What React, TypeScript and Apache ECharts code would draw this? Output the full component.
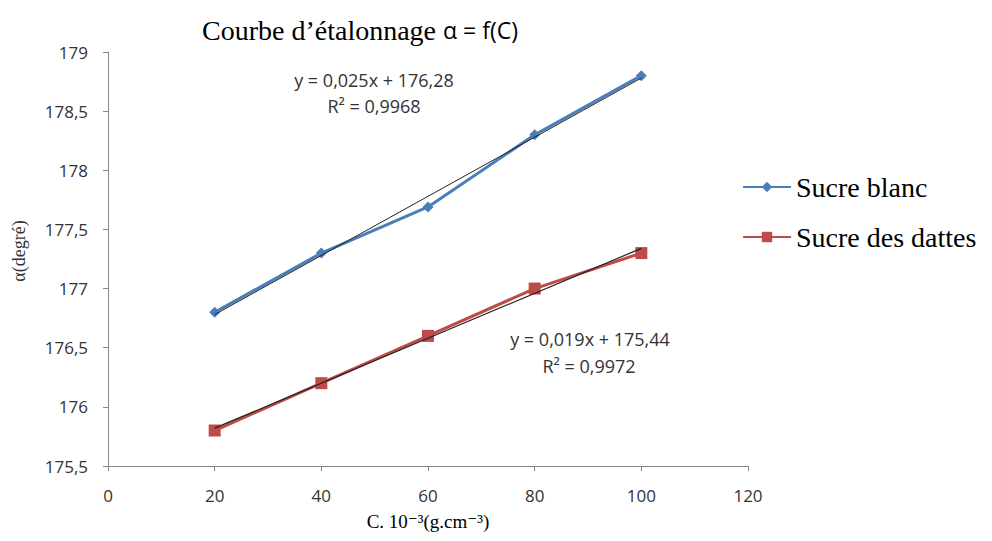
import React, { useEffect, useRef } from "react";
import * as echarts from "echarts";

const concentrations = [20, 40, 60, 80, 100];
const sucreBlanc = [176.8, 177.3, 177.69, 178.3, 178.8];
const sucreDattes = [175.8, 176.2, 176.6, 177.0, 177.3];
const trendBlanc = { slope: 0.025, intercept: 176.28, label: "y = 0,025x + 176,28", r2: "R² = 0,9968" };
const trendDattes = { slope: 0.019, intercept: 175.44, label: "y = 0,019x + 175,44", r2: "R² = 0,9972" };
const xTicks = { min: 0, max: 120, interval: 20 };
const yTicks = { min: 175.5, max: 179, interval: 0.5 };

const BLUE = "#4a7ebb";
const RED = "#be4b48";
const SERIF = "'Liberation Serif', 'DejaVu Serif', serif";
const SANS = "'Open Sans', 'Liberation Sans', sans-serif";

function trend(t: { slope: number; intercept: number }) {
  const x0 = concentrations[0];
  const x1 = concentrations[concentrations.length - 1];
  return [
    [x0, t.slope * x0 + t.intercept],
    [x1, t.slope * x1 + t.intercept],
  ];
}

export default function App() {
  const ref = useRef<HTMLDivElement>(null);
  useEffect(() => {
    if (!ref.current) return;
    const chart = echarts.init(ref.current, undefined, { renderer: "svg" });
    const fmt = (v: number) => String(v).replace(".", ",");
    chart.setOption({
      animation: false,
      backgroundColor: "#ffffff",
      grid: { left: 100, right: 236, top: 44, bottom: 67, containLabel: false, outerBoundsMode: "none" },
      title: {
        text: "Courbe d’étalonnage {s|α = f(C)}",
        left: 189,
        top: 3,
        textStyle: {
          fontFamily: SERIF,
          fontSize: 28,
          fontWeight: "normal",
          color: "#000",
          rich: { s: { fontFamily: SANS, fontSize: 23, color: "#000" } },
        },
      },
      legend: {
        orient: "vertical",
        left: 729,
        top: 160,
        itemGap: 22,
        itemWidth: 48,
        itemHeight: 13,
        data: ["Sucre blanc", "Sucre des dattes"],
        textStyle: { fontFamily: SERIF, fontSize: 28, color: "#000" },
      },
      xAxis: {
        type: "value",
        min: xTicks.min,
        max: xTicks.max,
        interval: xTicks.interval,
        name: "C. 10⁻³(g.cm⁻³)",
        nameLocation: "middle",
        nameGap: 46,
        nameTextStyle: { fontFamily: SERIF, fontSize: 19, color: "#000" },
        axisLine: { show: true, lineStyle: { color: "#868686", width: 1 } },
        axisTick: { show: true, inside: false, length: 5, lineStyle: { color: "#868686" } },
        axisLabel: { fontFamily: SANS, fontSize: 17, color: "#333", margin: 21, formatter: fmt },
        splitLine: { show: false },
      },
      yAxis: {
        type: "value",
        min: yTicks.min,
        max: yTicks.max,
        interval: yTicks.interval,
        name: "α(degré)",
        nameLocation: "middle",
        nameGap: 80,
        nameRotate: 90,
        nameTextStyle: { fontFamily: SERIF, fontSize: 18, color: "#333", padding: [0, 0, 0, 16] },
        axisLine: { show: true, lineStyle: { color: "#868686", width: 1 } },
        axisTick: { show: true, inside: false, length: 5, lineStyle: { color: "#868686" } },
        axisLabel: { fontFamily: SANS, fontSize: 17, color: "#333", margin: 20, formatter: fmt },
        splitLine: { show: false },
      },
      series: [
        {
          name: "Sucre blanc",
          type: "line",
          data: concentrations.map((c, i) => [c, sucreBlanc[i]]),
          lineStyle: { color: BLUE, width: 3 },
          itemStyle: { color: BLUE },
          symbol: "diamond",
          symbolSize: 11,
          z: 2,
        },
        {
          name: "Sucre des dattes",
          type: "line",
          data: concentrations.map((c, i) => [c, sucreDattes[i]]),
          lineStyle: { color: RED, width: 3 },
          itemStyle: { color: RED },
          symbol: "rect",
          symbolSize: 12,
          z: 2,
        },
        {
          name: "trend blanc",
          type: "line",
          data: trend(trendBlanc),
          lineStyle: { color: "#222", width: 1 },
          symbol: "none",
          silent: true,
          z: 3,
        },
        {
          name: "trend dattes",
          type: "line",
          data: trend(trendDattes),
          lineStyle: { color: "#222", width: 1.2 },
          symbol: "none",
          silent: true,
          z: 3,
        },
      ],
      graphic: [
        {
          type: "text",
          x: 366,
          y: 59,
          style: {
            text: trendBlanc.label + "\n" + trendBlanc.r2,
            fontFamily: SANS,
            fontSize: 18,
            lineHeight: 26,
            fill: "#333",
            align: "center",
          },
        },
        {
          type: "text",
          x: 582,
          y: 322,
          style: {
            text: trendDattes.label,
            fontFamily: SANS,
            fontSize: 18,
            fill: "#333",
            align: "center",
          },
        },
        {
          type: "text",
          x: 581,
          y: 349,
          style: {
            text: trendDattes.r2,
            fontFamily: SANS,
            fontSize: 18,
            fill: "#333",
            align: "center",
          },
        },
      ],
    });
    return () => chart.dispose();
  }, []);
  return <div ref={ref} style={{ width: 976, height: 525 }} />;
}
